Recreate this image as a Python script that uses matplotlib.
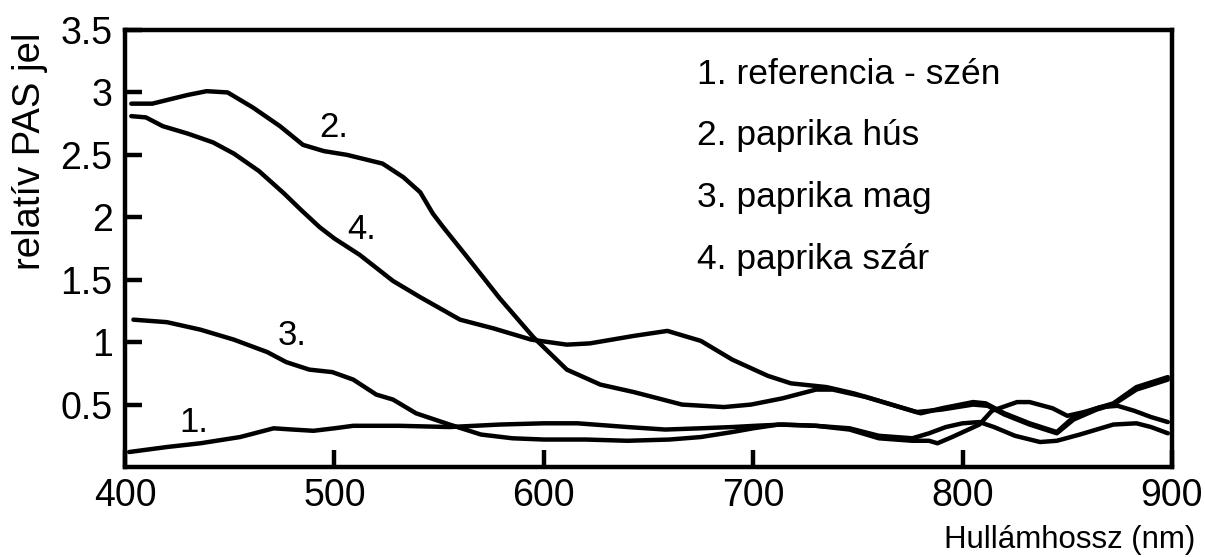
import matplotlib
matplotlib.use("Agg")
import matplotlib.pyplot as plt

plt.rcParams['font.family'] = ['Liberation Sans', 'DejaVu Sans']

# digitised PAS spectra (wavelength nm, relative signal)
wl_1 = [402, 420, 436, 455, 471, 480, 490, 500, 509, 531, 555, 579, 600, 616, 640, 658, 675,
        690, 701, 714, 730, 746, 760, 776, 784, 792, 800, 808, 815, 825, 837, 845, 856, 872,
        883, 890, 898]
pas_1 = [0.12, 0.16, 0.19, 0.24, 0.31, 0.30, 0.29, 0.31, 0.33, 0.33, 0.32, 0.34, 0.35, 0.35,
         0.32, 0.30, 0.31, 0.32, 0.33, 0.34, 0.33, 0.31, 0.25, 0.23, 0.27, 0.32, 0.35, 0.36,
         0.32, 0.25, 0.20, 0.21, 0.26, 0.34, 0.35, 0.32, 0.27]

wl_2 = [403, 413, 430, 439, 449, 461, 474, 485, 495, 506, 523, 533, 541, 547, 552, 563, 579,
        595, 611, 627, 643, 666, 686, 699, 714, 730, 738, 754, 770, 780, 790, 805, 811, 820,
        832, 845, 853, 864, 872, 883, 898]
pas_2 = [2.91, 2.91, 2.98, 3.01, 3.0, 2.88, 2.73, 2.58, 2.53, 2.5, 2.43, 2.32, 2.2, 2.03, 1.92,
         1.69, 1.35, 1.04, 0.78, 0.66, 0.6, 0.5, 0.48, 0.5, 0.55, 0.62, 0.62, 0.56, 0.48, 0.43,
         0.47, 0.52, 0.51, 0.43, 0.35, 0.28, 0.40, 0.47, 0.51, 0.64, 0.72]

wl_3 = [404, 420, 436, 452, 468, 477, 488, 499, 509, 520, 528, 539, 555, 570, 585, 600, 620,
        640, 660, 675, 690, 700, 712, 730, 746, 760, 776, 784, 788, 795, 808, 814, 826, 832,
        843, 850, 858, 866, 874, 882, 890, 898]
pas_3 = [1.18, 1.16, 1.10, 1.02, 0.92, 0.84, 0.78, 0.76, 0.70, 0.58, 0.54, 0.43, 0.34, 0.26,
         0.23, 0.22, 0.22, 0.21, 0.22, 0.24, 0.28, 0.31, 0.34, 0.33, 0.30, 0.23, 0.21, 0.21,
         0.19, 0.24, 0.34, 0.45, 0.52, 0.52, 0.47, 0.41, 0.44, 0.48, 0.49, 0.45, 0.40, 0.36]

wl_4 = [403, 410, 418, 430, 442, 452, 464, 476, 484, 493, 500, 512, 528, 541, 560, 576, 594,
        611, 622, 643, 659, 675, 690, 707, 718, 735, 748, 764, 778, 790, 805, 812, 820, 832,
        845, 853, 864, 872, 883, 898]
pas_4 = [2.81, 2.8, 2.73, 2.67, 2.6, 2.51, 2.37, 2.19, 2.06, 1.92, 1.83, 1.7, 1.49, 1.36, 1.18,
         1.11, 1.02, 0.98, 0.99, 1.05, 1.09, 1.01, 0.86, 0.73, 0.67, 0.64, 0.59, 0.51, 0.44,
         0.46, 0.50, 0.49, 0.42, 0.34, 0.27, 0.38, 0.46, 0.50, 0.62, 0.70]

legend_lines = ["1. referencia - szén", "2. paprika hús", "3. paprika mag", "4. paprika szár"]
curve_tags = ["1.", "2.", "3.", "4."]
x_ticks = [400, 500, 600, 700, 800, 900]
y_ticks = [0.5, 1, 1.5, 2, 2.5, 3, 3.5]
y_tick_labels = ["0.5", "1", "1.5", "2", "2.5", "3", "3.5"]

fig = plt.figure(figsize=(12.05, 5.57), dpi=100)
ax = fig.add_axes([125 / 1205, 90 / 557, 1047 / 1205, 437 / 557])

for wl, pas in [(wl_1, pas_1), (wl_2, pas_2), (wl_3, pas_3), (wl_4, pas_4)]:
    ax.plot(wl, pas, color="black", lw=3.2, solid_joinstyle="round", solid_capstyle="round")

ax.set_xlim(400, 900)
ax.set_ylim(0, 3.5)
ax.set_xticks(x_ticks)
ax.set_xticklabels([str(v) for v in x_ticks])
ax.set_yticks(y_ticks)
ax.set_yticklabels(y_tick_labels)
ax.tick_params(direction="in", length=12, width=3.2, labelsize=27, colors="black")
ax.tick_params(axis="y", pad=9)
ax.tick_params(axis="x", pad=8)
for sp in ax.spines.values():
    sp.set_linewidth(3.2)

# curve numbers next to the lines
tag_pos = [(426, 0.28), (493, 2.64), (473, 0.98), (506, 1.83)]
for tag, (tx, ty) in zip(curve_tags, tag_pos):
    ax.text(tx, ty, tag, fontsize=25, va="baseline", ha="left")

# legend written as plain text
for i, line in enumerate(legend_lines):
    ax.text(673, 3.07 - 0.495 * i, line, fontsize=25.5, va="baseline", ha="left")

fig.text(30 / 1205, 1 - 151 / 557, "relatív PAS jel", rotation=90, fontsize=27.5,
         ha="center", va="center")
fig.text(1195 / 1205, 1 - 540 / 557, "Hullámhossz (nm)", fontsize=22.5, ha="right", va="center")

fig.savefig("out.png", dpi=100)
